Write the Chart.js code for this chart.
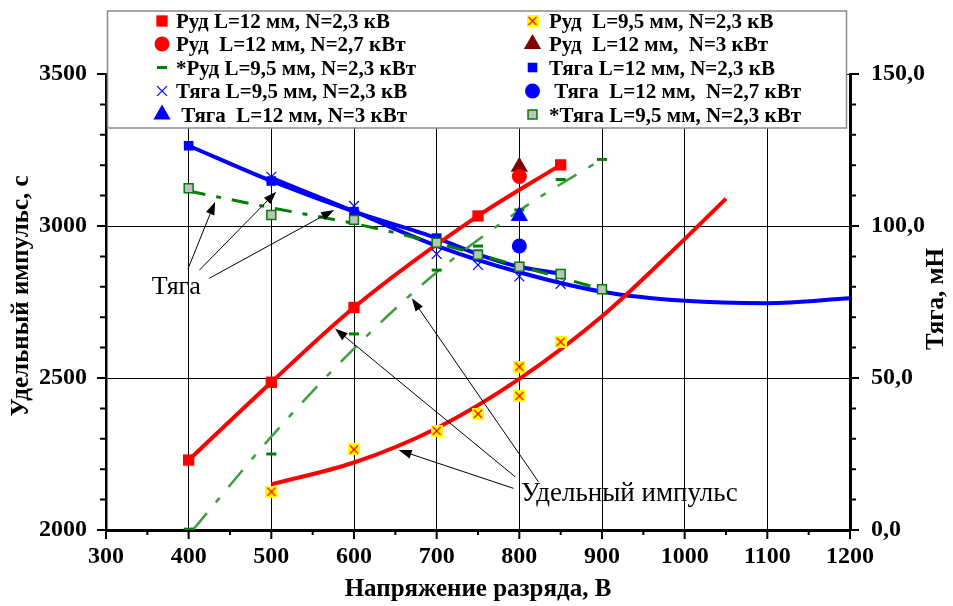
<!DOCTYPE html>
<html><head><meta charset="utf-8">
<script src="https://cdn.jsdelivr.net/npm/chart.js@4.4.1/dist/chart.umd.min.js"></script>
<style>html,body{margin:0;padding:0;background:#fff;}canvas{display:block;}</style>
</head><body>
<canvas id="c" width="953" height="606"></canvas>
<script>
// ---------- data ----------
const voltsRudL12 = [400, 500, 600, 750, 850];
const rudL12 = [2230, 2486, 2732, 3033, 3201];
const voltsRudL95 = [500, 600, 700, 750, 800, 800, 850];
const rudL95 = [2126, 2265, 2326, 2382, 2537, 2441, 2619];
const voltsRudL95Trend = [500, 600, 700, 800, 900, 1000, 1050];
const rudL95Trend = [2150, 2222, 2335, 2497, 2703, 2957, 3090];
const voltsSingle = [800];
const rudL12N27 = [3163];
const rudL12N3 = [3195];
const voltsRudStar = [400, 500, 600, 700, 750, 800, 850, 900];
const rudStar = [2003, 2250, 2645, 2855, 2934, 3053, 3153, 3219];
const voltsRudStarTrend = [405, 500, 600, 700, 800, 900];
const rudStarTrend = [2000, 2307, 2597, 2848, 3051, 3220];
const voltsThrL12 = [400, 500, 600, 700, 750, 800, 850];
const thrL12 = [126.4, 114.8, 104.7, 96.0, 90.7, 86.6, 84.3];
const voltsThrL95 = [500, 600, 700, 750, 800, 850];
const thrL95 = [116.2, 106.6, 90.8, 87.2, 83.4, 81.0];
const voltsThrL95Trend = [500, 600, 700, 800, 900, 1000, 1100, 1200];
const thrL95Trend = [115.8, 104.8, 93.5, 84.8, 78.4, 75.4, 74.6, 76.2];
const thrL12N27 = [93.4];
const thrL12N3 = [103.3];
const voltsThrStar = [400, 500, 600, 700, 750, 800, 850, 900];
const thrStar = [112.4, 103.6, 102.0, 94.5, 90.5, 86.6, 84.2, 79.2];
const voltsThrStarTrend = [400, 500, 600, 700, 800, 900];
const thrStarTrend = [111.5, 106.0, 100.8, 94.4, 86.8, 79.2];

const xTickValues = [300, 400, 500, 600, 700, 800, 900, 1000, 1100, 1200];
const xTickLabels = ['300', '400', '500', '600', '700', '800', '900', '1000', '1100', '1200'];
const yTickValues = [2000, 2500, 3000, 3500];
const yTickLabels = ['2000', '2500', '3000', '3500'];
const y2TickValues = [0, 50, 100, 150];
const y2TickLabels = ['0,0', '50,0', '100,0', '150,0'];

const seriesLabels = [
  'Руд L=12 мм, N=2,3 кВ',
  'Руд  L=9,5 мм, N=2,3 кВ',
  'Руд  L=12 мм, N=2,7 кВт',
  'Руд  L=12 мм,  N=3 кВт',
  '*Руд L=9,5 мм, N=2,3 кВт',
  'Тяга L=12 мм, N=2,3 кВ',
  'Тяга L=9,5 мм, N=2,3 кВ',
  ' Тяга  L=12 мм,  N=2,7 кВт',
  ' Тяга  L=12 мм, N=3 кВт',
  '*Тяга L=9,5 мм, N=2,3 кВт'
];
const xTitle = 'Напряжение разряда, В';
const yTitle = 'Удельный импульс, с';
const y2Title = 'Тяга, мН';
const thrustNoteText = 'Тяга';
const ispNoteText = 'Удельный импульс';

// ---------- helpers ----------
const pair = (xs, ys) => xs.map((x, i) => ({x: x, y: ys[i]}));
function makeYellowX(size) {
  const c = document.createElement('canvas');
  c.width = size; c.height = size;
  const g = c.getContext('2d');
  g.fillStyle = '#FFFF00'; g.fillRect(0, 0, size, size);
  g.strokeStyle = '#FF0000'; g.lineWidth = 1.3;
  g.beginPath(); g.moveTo(2, 2); g.lineTo(size - 2, size - 2);
  g.moveTo(size - 2, 2); g.lineTo(2, size - 2); g.stroke();
  return c;
}
const yellowX = makeYellowX(12);
const SERIF = "'Liberation Serif', 'Times New Roman', serif";

const mk = {
  redSq: {pointStyle: 'rect', radius: 8, bg: '#FF0000', border: '#FF0000', bw: 0},
  yellowX: {pointStyle: yellowX, radius: 6, bg: '#FFFF00', border: '#FF0000', bw: 0},
  redCircle: {pointStyle: 'circle', radius: 7.5, bg: '#FF0000', border: '#FF0000', bw: 0},
  darkTri: {pointStyle: 'triangle', radius: 10, bg: '#800000', border: '#800000', bw: 0},
  greenDash: {pointStyle: 'line', radius: 5, bg: '#008000', border: '#008000', bw: 3},
  blueSq: {pointStyle: 'rect', radius: 6.8, bg: '#0000FF', border: '#0000FF', bw: 0},
  blueX: {pointStyle: 'crossRot', radius: 7, bg: '#0000FF', border: '#0000FF', bw: 1.2},
  blueCircle: {pointStyle: 'circle', radius: 7.5, bg: '#0000FF', border: '#0000FF', bw: 0},
  blueTri: {pointStyle: 'triangle', radius: 10, bg: '#0000FF', border: '#0000FF', bw: 0},
  graySq: {pointStyle: 'rect', radius: 6.3, bg: '#C0C0C0', border: '#008000', bw: 1.5}
};
function pts(m) {
  return {pointStyle: m.pointStyle, pointRadius: m.radius, pointBackgroundColor: m.bg,
          pointBorderColor: m.border, pointBorderWidth: m.bw, pointHoverRadius: m.radius};
}

const datasets = [
  Object.assign({label: seriesLabels[0], data: pair(voltsRudL12, rudL12), yAxisID: 'y',
    borderColor: '#FF0000', borderWidth: 4, showLine: true, cubicInterpolationMode: 'monotone', order: 5}, pts(mk.redSq)),
  Object.assign({label: seriesLabels[1], data: pair(voltsRudL95, rudL95), yAxisID: 'y',
    showLine: false, order: 1}, pts(mk.yellowX)),
  Object.assign({label: seriesLabels[2], data: pair(voltsSingle, rudL12N27), yAxisID: 'y',
    showLine: false, order: 0}, pts(mk.redCircle)),
  Object.assign({label: seriesLabels[3], data: pair(voltsSingle, rudL12N3), yAxisID: 'y',
    showLine: false, order: 0.5}, pts(mk.darkTri)),
  Object.assign({label: seriesLabels[4], data: pair(voltsRudStar, rudStar), yAxisID: 'y',
    showLine: false, order: 2}, pts(mk.greenDash)),
  Object.assign({label: seriesLabels[5], data: pair(voltsThrL12, thrL12), yAxisID: 'y2',
    borderColor: '#0000FF', borderWidth: 4, showLine: true, cubicInterpolationMode: 'monotone', order: 9}, pts(mk.blueSq)),
  Object.assign({label: seriesLabels[6], data: pair(voltsThrL95, thrL95), yAxisID: 'y2',
    showLine: false, order: 4}, pts(mk.blueX)),
  Object.assign({label: seriesLabels[7], data: pair(voltsSingle, thrL12N27), yAxisID: 'y2',
    showLine: false, order: 0}, pts(mk.blueCircle)),
  Object.assign({label: seriesLabels[8], data: pair(voltsSingle, thrL12N3), yAxisID: 'y2',
    showLine: false, order: 0}, pts(mk.blueTri)),
  Object.assign({label: seriesLabels[9], data: pair(voltsThrStar, thrStar), yAxisID: 'y2',
    showLine: false, order: 3}, pts(mk.graySq)),
  // trend lines
  {label: 'trend Руд L=9,5', data: pair(voltsRudL95Trend, rudL95Trend), yAxisID: 'y',
    borderColor: '#FF0000', borderWidth: 4, pointRadius: 0, cubicInterpolationMode: 'monotone', order: 6},
  {label: 'trend *Руд', data: pair(voltsRudStarTrend, rudStarTrend), yAxisID: 'y',
    borderColor: '#3C9F3C', borderWidth: 2.5, borderDash: [22, 14, 6, 14], pointRadius: 0,
    cubicInterpolationMode: 'monotone', order: 7},
  {label: 'trend Тяга L=9,5', data: pair(voltsThrL95Trend, thrL95Trend), yAxisID: 'y2',
    borderColor: '#0000FF', borderWidth: 4, pointRadius: 0, cubicInterpolationMode: 'monotone', order: 10},
  {label: 'trend *Тяга', data: pair(voltsThrStarTrend, thrStarTrend), yAxisID: 'y2',
    borderColor: '#008000', borderWidth: 3, borderDash: [17, 11, 5, 11], pointRadius: 0,
    cubicInterpolationMode: 'monotone', order: 8}
];
const markerOf = [mk.redSq, mk.yellowX, mk.redCircle, mk.darkTri, mk.greenDash,
                  mk.blueSq, mk.blueX, mk.blueCircle, mk.blueTri, mk.graySq];

// ---------- decoration plugin ----------
const decor = {
  id: 'decor',
  beforeDraw(chart) {
    const ctx = chart.ctx;
    ctx.save(); ctx.fillStyle = '#fff'; ctx.fillRect(0, 0, chart.width, chart.height); ctx.restore();
  },
  afterDraw(chart, args, opts) {
    const ctx = chart.ctx, sx = chart.scales.x, sy = chart.scales.y, sy2 = chart.scales.y2;
    const ca = chart.chartArea;
    ctx.save();
    // tick marks
    ctx.strokeStyle = '#000'; ctx.lineWidth = 2;
    ctx.beginPath();
    for (const t of sx.ticks) {
      const px = sx.getPixelForValue(t.value);
      const major = t.value % 100 === 0;
      ctx.moveTo(px, ca.bottom); ctx.lineTo(px, ca.bottom + (major ? 9 : 5));
    }
    for (const t of sy.ticks) {
      const py = sy.getPixelForValue(t.value);
      const major = t.value % 500 === 0;
      ctx.moveTo(ca.left, py); ctx.lineTo(ca.left - (major ? 9 : 6), py);
    }
    for (const t of sy2.ticks) {
      const py = sy2.getPixelForValue(t.value);
      const major = t.value % 50 === 0;
      ctx.moveTo(ca.right, py); ctx.lineTo(ca.right + (major ? 9 : 6), py);
    }
    ctx.stroke();

    // annotations with arrows
    const P = (x, y) => [sx.getPixelForValue(x), sy.getPixelForValue(y)];
    function arrow(a) {
      const [x1, y1] = P(a[0], a[1]);
      const [x2, y2] = P(a[2], a[3]);
      const ang = Math.atan2(y2 - y1, x2 - x1);
      const L = 13, W = 4.5;
      const bx = x2 - L * Math.cos(ang), by = y2 - L * Math.sin(ang);
      ctx.strokeStyle = '#000'; ctx.lineWidth = 1;
      ctx.beginPath(); ctx.moveTo(x1, y1); ctx.lineTo(bx, by); ctx.stroke();
      ctx.fillStyle = '#000';
      ctx.beginPath(); ctx.moveTo(x2, y2);
      ctx.lineTo(bx + W * Math.sin(ang), by - W * Math.cos(ang));
      ctx.lineTo(bx - W * Math.sin(ang), by + W * Math.cos(ang));
      ctx.closePath(); ctx.fill();
    }
    opts.notes.forEach(n => {
      n.arrows.forEach(arrow);
      const [tx, ty] = P(n.x, n.y);
      ctx.fillStyle = '#000';
      ctx.font = n.size + 'px ' + SERIF;
      ctx.textAlign = 'center'; ctx.textBaseline = 'middle';
      ctx.fillText(n.text, tx, ty);
    });

    // axis titles
    ctx.fillStyle = '#000';
    ctx.font = 'bold 25px ' + SERIF;
    ctx.textAlign = 'center'; ctx.textBaseline = 'middle';
    ctx.fillText(xTitle, (ca.left + ca.right) / 2, 590);
    ctx.save(); ctx.translate(22, 296); ctx.rotate(-Math.PI / 2); ctx.fillText(yTitle, 0, 0); ctx.restore();
    ctx.save(); ctx.translate(937, 299); ctx.rotate(-Math.PI / 2); ctx.fillText(y2Title, 0, 0); ctx.restore();

    // legend box
    const lb = opts.legendBox;
    ctx.fillStyle = '#fff';
    ctx.fillRect(lb.x, lb.y, lb.w, lb.h);
    ctx.strokeStyle = '#8a8a8a'; ctx.lineWidth = 1.5;
    ctx.strokeRect(lb.x, lb.y, lb.w, lb.h);
    ctx.font = 'bold 21px ' + SERIF;
    ctx.textAlign = 'left'; ctx.textBaseline = 'alphabetic';
    opts.legendItems.forEach(([di, col, row]) => {
      const m = markerOf[di];
      const mx = lb.markerX[col], tx = lb.textX[col], y = lb.rows[row];
      ctx.fillStyle = m.bg; ctx.strokeStyle = m.border; ctx.lineWidth = m.bw;
      Chart.helpers.drawPoint(ctx, {pointStyle: m.pointStyle, radius: m.radius, rotation: 0, borderWidth: m.bw}, mx, y);
      ctx.fillStyle = '#000';
      ctx.fillText(seriesLabels[di], tx, y + 7);
    });
    ctx.restore();
  }
};

new Chart(document.getElementById('c'), {
  type: 'line',
  data: {datasets: datasets},
  plugins: [decor],
  options: {
    responsive: false,
    animation: false,
    events: [],
    layout: {padding: {top: 74, left: 0, right: 0, bottom: 0}},
    plugins: {
      legend: {display: false},
      tooltip: {enabled: false},
      decor: {
        legendBox: {x: 107.5, y: 11, w: 739, h: 117, markerX: [162, 532.5], textX: [176, 549],
                    rows: [21, 44, 67.5, 91, 114.5]},
        legendItems: [[0, 0, 0], [2, 0, 1], [4, 0, 2], [6, 0, 3], [8, 0, 4],
                      [1, 1, 0], [3, 1, 1], [5, 1, 2], [7, 1, 3], [9, 1, 4]],
        notes: [
          {text: thrustNoteText, x: 385, y: 2798, size: 26,
           arrows: [[399, 2858, 432, 3080], [413, 2855, 506, 3113], [425, 2828, 576, 3053]]},
          {text: ispNoteText, x: 933, y: 2118, size: 27,
           arrows: [[795, 2175, 577, 2663], [823, 2159, 670, 2762], [793, 2137, 654, 2263]]}
        ]
      }
    },
    scales: {
      x: {
        type: 'linear', min: 300, max: 1200,
        afterFit: s => { s.height = 76; },
        ticks: {stepSize: 50, autoSkip: false, maxRotation: 0, padding: 12, color: '#000',
                font: {family: SERIF, size: 24, weight: 'bold'},
                callback: v => { const i = xTickValues.indexOf(v); return i >= 0 ? xTickLabels[i] : ''; }},
        grid: {drawTicks: false, lineWidth: 1,
               color: c => (c.tick && c.tick.value % 100 === 0 && c.tick.value > 300 && c.tick.value < 1200) ? '#000' : 'rgba(0,0,0,0)'},
        border: {display: true, color: '#000', width: 3}
      },
      y: {
        type: 'linear', position: 'left', min: 2000, max: 3500,
        afterFit: s => { s.width = 106; },
        ticks: {stepSize: 100, autoSkip: false, padding: 19, color: '#000',
                font: {family: SERIF, size: 24, weight: 'bold'},
                callback: v => { const i = yTickValues.indexOf(v); return i >= 0 ? yTickLabels[i] : ''; }},
        grid: {drawTicks: false, lineWidth: 1,
               color: c => (c.tick && c.tick.value % 500 === 0 && c.tick.value > 2000) ? '#000' : 'rgba(0,0,0,0)'},
        border: {display: true, color: '#000', width: 2.5}
      },
      y2: {
        type: 'linear', position: 'right', min: 0, max: 150,
        afterFit: s => { s.width = 103; },
        ticks: {stepSize: 10, autoSkip: false, padding: 21, color: '#000',
                font: {family: SERIF, size: 24, weight: 'bold'},
                callback: v => { const i = y2TickValues.indexOf(v); return i >= 0 ? y2TickLabels[i] : ''; }},
        grid: {drawTicks: false, drawOnChartArea: false},
        border: {display: true, color: '#000', width: 3}
      }
    }
  }
});
</script>
</body></html>
